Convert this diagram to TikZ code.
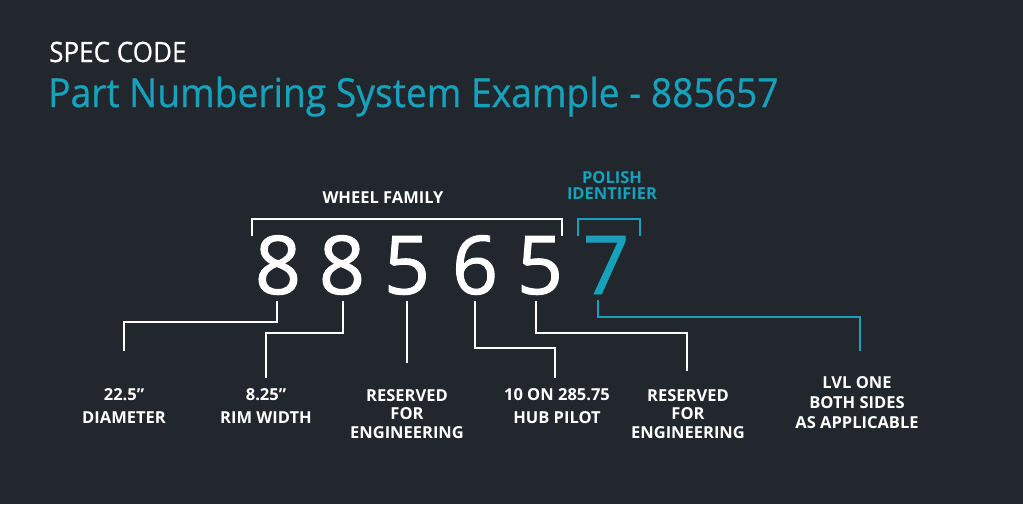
\documentclass[tikz,border=0pt]{standalone}
\usepackage{fontspec}
\setmainfont{Open Sans}
\newfontfamily\condfont[FakeStretch=0.93,FakeBold=0.6]{Open Sans}
\newfontfamily\digitfont[FakeBold=1.2]{Open Sans}
\definecolor{bg}{RGB}{34,39,45}
\definecolor{teal}{RGB}{22,162,188}
\begin{document}
\begin{tikzpicture}[x=1pt,y=-1pt,
  conn/.style={draw=white,line width=2.6pt},
  tconn/.style={draw=teal,line width=2.6pt},
  digit/.style={inner sep=0pt,anchor=base,font=\digitfont\fontsize{81}{81}\selectfont,text=white},
  lbl/.style={anchor=north,align=center,text=white,inner sep=0pt,font=\bfseries\fontsize{16.5}{23}\selectfont},
  lbl3/.style={lbl,font=\bfseries\fontsize{16.5}{18.5}\selectfont},
  hdr/.style={anchor=base,inner sep=0pt,align=center,font=\bfseries\fontsize{16.5}{16}\selectfont}]
\useasboundingbox (0,0) rectangle (1023,504);
\fill[bg] (0,0) rectangle (1023,504);
% titles
\node[anchor=base west,inner sep=0pt,text=white,font=\condfont\fontsize{28}{28}\selectfont] (t1) at (49,62) {SPEC CODE};
\node[anchor=base west,inner sep=0pt,text=teal,font=\condfont\fontsize{40}{40}\selectfont] (t2) at (48,107) {Part Numbering System Example - 885657};
% headers
\node[hdr,text=white] (wf) at (383,203) {WHEEL FAMILY};
\node[hdr,text=teal,anchor=north] (pi) at (612,171) {POLISH\\IDENTIFIER};
% brackets
\draw[conn] (252,236) coordinate (b1) -- (252,219) -- (562,219) -- (562,236) coordinate (b2);
\draw[tconn] (578,236) coordinate (b3) -- (578,219) -- (640,219) -- (640,236) coordinate (b4);
% digits
\node[digit] (d1) at (278,294) {8};
\node[digit] (d2) at (342,294) {8};
\node[digit] (d3) at (407,294) {5};
\node[digit] (d4) at (475,294) {6};
\node[digit] (d5) at (540,294) {5};
\node[digit,text=teal] (d6) at (606,294) {7};
% labels
\node[lbl] (l1) at (124,388) {22.5”\\DIAMETER};
\node[lbl] (l2) at (266,388) {8.25”\\RIM WIDTH};
\node[lbl3] (l3) at (407,389) {RESERVED\\FOR\\ENGINEERING};
\node[lbl] (l4) at (557,388) {10 ON 285.75\\HUB PILOT};
\node[lbl3] (l5) at (688,389) {RESERVED\\FOR\\ENGINEERING};
\node[lbl,font=\bfseries\fontsize{16.5}{20}\selectfont] (l6) at (857,376) {LVL ONE\\BOTH SIDES\\AS APPLICABLE};
% connector ends
\coordinate (e1) at (124,351);
\coordinate (e2) at (266,378);
\coordinate (e3) at (407,363);
\coordinate (e4) at (555,378);
\coordinate (e5) at (687,371);
\coordinate (e6) at (860,351);
% connectors
\draw[conn] ([xshift=-1pt,yshift=-6pt]d1.south) |- (e1 |- 0,322) -- (e1);
\draw[conn] ([xshift=1pt,yshift=-6pt]d2.south) |- (e2 |- 0,333) -- (e2);
\draw[conn] ([yshift=-6pt]d3.south) -- (e3);
\draw[conn] ([yshift=-6pt]d4.south) |- (e4 |- 0,348) -- (e4);
\draw[conn] ([xshift=-4pt,yshift=-6pt]d5.south) |- (e5 |- 0,333) -- (e5);
\draw[tconn] ([xshift=-8pt,yshift=-6pt]d6.south) |- (e6 |- 0,317) -- (e6);
\end{tikzpicture}
\end{document}
